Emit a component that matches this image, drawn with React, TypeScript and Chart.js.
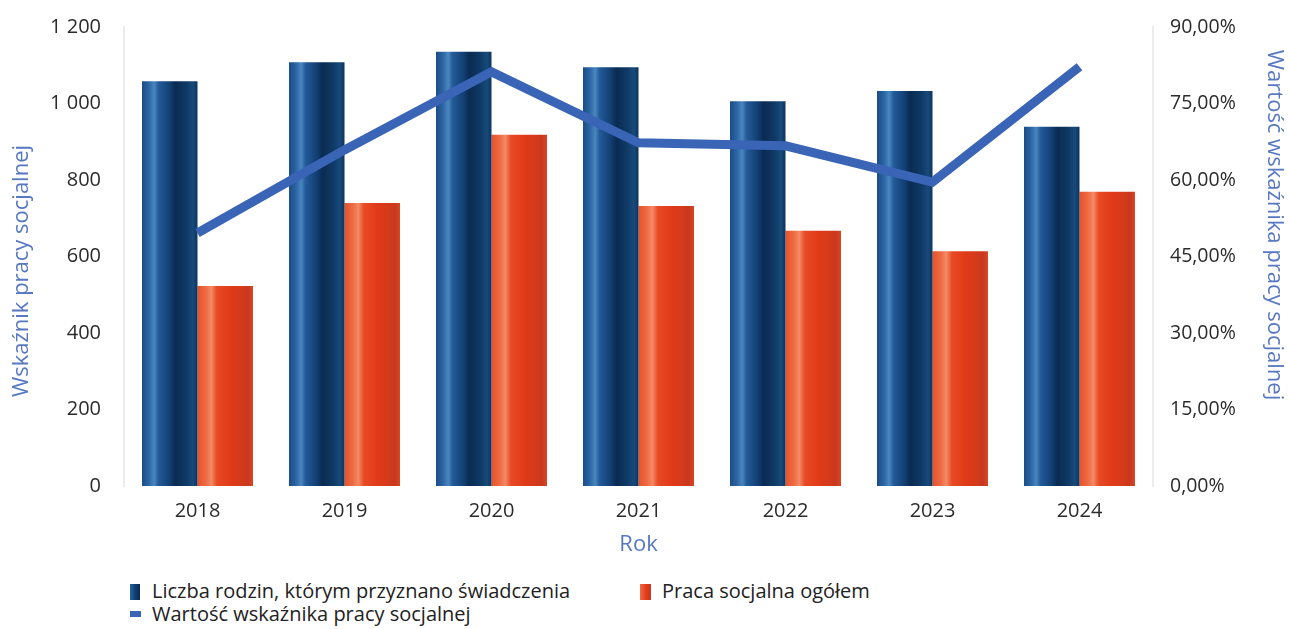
import React, { useEffect, useRef } from "react";
import { Chart, registerables } from "chart.js";

Chart.register(...registerables);

const years = ["2018", "2019", "2020", "2021", "2022", "2023", "2024"];
const familiesGranted = [1058, 1108, 1135, 1095, 1006, 1033, 939];
const socialWorkTotal = [523, 740, 918, 732, 667, 614, 769];
const indicatorPct = [49.6, 65.9, 81.2, 67.3, 66.7, 59.6, 82.2];

const leftTicks = [0, 200, 400, 600, 800, 1000, 1200];
const rightTicks = [0, 15, 30, 45, 60, 75, 90];

const xTitle = "Rok";
const leftTitle = "Wskaźnik pracy socjalnej";
const rightTitle = "Wartość wskaźnika pracy socjalnej";

const FONT = "'Open Sans', 'Noto Sans', sans-serif";
const CAT_PCT = 0.755;
const TITLE_COLOR = "#5878c2";
const LINE_COLOR = "#3a64b6";
const TICK_COLOR = "#2b2b2b";

const blueStops: [number, string][] = [
  [0, "#1b4c86"],
  [0.12, "#2a64a3"],
  [0.22, "#4a86c0"],
  [0.3, "#225a98"],
  [0.5, "#123f73"],
  [0.6, "#0a2b52"],
  [0.8, "#0f3a66"],
  [0.92, "#174a7c"],
  [1, "#0d335c"],
];
const redStops: [number, string][] = [
  [0, "#e6522b"],
  [0.15, "#ee6a42"],
  [0.25, "#f48a66"],
  [0.35, "#e84a24"],
  [0.6, "#e03a18"],
  [0.8, "#d33a1c"],
  [0.9, "#c8381e"],
  [1, "#d84524"],
];

function barGradient(ctx: any, stops: [number, string][], side: number) {
  const chart = ctx.chart;
  const xs = chart.scales && chart.scales.x;
  if (!xs || !chart.chartArea || ctx.dataIndex === undefined) return stops[0][1];
  const center = xs.getPixelForValue(ctx.dataIndex);
  const cat = (xs.right - xs.left) / years.length;
  const w = (cat * CAT_PCT) / 2;
  const x0 = side === 0 ? center - w : center;
  const g = chart.ctx.createLinearGradient(x0, 0, x0 + w, 0);
  stops.forEach(([o, c]) => g.addColorStop(o, c));
  return g;
}

function fmtThousands(v: number) {
  return String(v).replace(/\B(?=(\d{3})+(?!\d))/g, " ");
}

const axisTitlesPlugin = {
  id: "axisTitles",
  afterDraw(chart: any) {
    const { ctx, chartArea } = chart;
    ctx.save();
    ctx.fillStyle = TITLE_COLOR;
    ctx.font = `22px ${FONT}`;
    ctx.textAlign = "center";
    ctx.textBaseline = "middle";
    // x title
    ctx.fillText(xTitle, (chartArea.left + chartArea.right) / 2, 545);
    // left title
    ctx.save();
    ctx.translate(22, 271);
    ctx.rotate(-Math.PI / 2);
    ctx.fillText(leftTitle, 0, 0);
    ctx.restore();
    // right title
    ctx.save();
    ctx.translate(1274, 225);
    ctx.rotate(Math.PI / 2);
    ctx.fillText(rightTitle, 0, 0);
    ctx.restore();
    ctx.restore();
  },
};

export default function App() {
  const canvasRef = useRef<HTMLCanvasElement>(null);

  useEffect(() => {
    if (!canvasRef.current) return;
    const chart = new Chart(canvasRef.current, {
      type: "bar",
      data: {
        labels: years,
        datasets: [
          {
            type: "line",
            label: "Wartość wskaźnika pracy socjalnej",
            data: indicatorPct,
            yAxisID: "y1",
            borderColor: LINE_COLOR,
            backgroundColor: LINE_COLOR,
            borderWidth: 9,
            pointRadius: 0,
            tension: 0,
            borderCapStyle: "butt",
            borderJoinStyle: "miter",
            order: 0,
          } as any,
          {
            label: "Liczba rodzin, którym przyznano świadczenia",
            data: familiesGranted,
            yAxisID: "y",
            backgroundColor: (c: any) => barGradient(c, blueStops, 0),
            borderWidth: 0,
            barPercentage: 1,
            categoryPercentage: CAT_PCT,
            order: 1,
          },
          {
            label: "Praca socjalna ogółem",
            data: socialWorkTotal,
            yAxisID: "y",
            backgroundColor: (c: any) => barGradient(c, redStops, 1),
            borderWidth: 0,
            barPercentage: 1,
            categoryPercentage: CAT_PCT,
            order: 1,
          },
        ],
      },
      options: {
        responsive: false,
        animation: false,
        layout: { padding: { top: 27, left: 0, right: 0, bottom: 0 } },
        plugins: {
          legend: { display: false },
          tooltip: { enabled: false },
        },
        scales: {
          x: {
            grid: { display: false },
            border: { display: false },
            ticks: {
              color: TICK_COLOR,
              font: { family: FONT, size: 20 },
              padding: 5,
            },
            afterFit: (s: any) => {
              s.height = 74;
            },
          },
          y: {
            position: "left",
            min: 0,
            max: 1200,
            afterBuildTicks: (s: any) => {
              s.ticks = leftTicks.map((v) => ({ value: v }));
            },
            grid: { display: false },
            border: { display: true, color: "#ececf0", width: 2 },
            ticks: {
              color: TICK_COLOR,
              font: { family: FONT, size: 20 },
              padding: 15,
              callback: (v: any) => fmtThousands(Number(v)),
            },
            afterFit: (s: any) => {
              s.width = 124;
            },
          },
          y1: {
            position: "right",
            min: 0,
            max: 90,
            afterBuildTicks: (s: any) => {
              s.ticks = rightTicks.map((v) => ({ value: v }));
            },
            grid: { display: false },
            border: { display: true, color: "#ececf0", width: 2 },
            ticks: {
              color: TICK_COLOR,
              font: { family: FONT, size: 19.5 },
              padding: 9,
              callback: (v: any) => Number(v).toFixed(2).replace(".", ",") + "%",
            },
            afterFit: (s: any) => {
              s.width = 137;
            },
          },
        },
      } as any,
      plugins: [axisTitlesPlugin],
    });
    return () => chart.destroy();
  }, []);

  const legendText: React.CSSProperties = {
    position: "absolute",
    fontFamily: FONT,
    fontSize: 20,
    color: "#222222",
    lineHeight: "24px",
    whiteSpace: "nowrap",
  };

  return (
    <div
      style={{
        position: "fixed",
        left: 0,
        top: 0,
        width: 1290,
        height: 629,
        background: "#ffffff",
        overflow: "hidden",
      }}
    >
      <canvas ref={canvasRef} width={1290} height={560} style={{ display: "block" }} />
      <div
        style={{
          position: "absolute",
          left: 130,
          top: 584,
          width: 10,
          height: 16,
          background: "linear-gradient(90deg, #2a64a3 0%, #123f73 50%, #0a2b52 100%)",
        }}
      />
      <div style={{ ...legendText, left: 152, top: 579 }}>
        Liczba rodzin, którym przyznano świadczenia
      </div>
      <div
        style={{
          position: "absolute",
          left: 640,
          top: 584,
          width: 11,
          height: 16,
          background: "linear-gradient(90deg, #ee6a42 0%, #e03a18 60%, #c8381e 100%)",
        }}
      />
      <div style={{ ...legendText, left: 662, top: 579 }}>Praca socjalna ogółem</div>
      <div
        style={{
          position: "absolute",
          left: 130,
          top: 611,
          width: 11,
          height: 6,
          background: LINE_COLOR,
        }}
      />
      <div style={{ ...legendText, left: 152, top: 602 }}>
        Wartość wskaźnika pracy socjalnej
      </div>
    </div>
  );
}
